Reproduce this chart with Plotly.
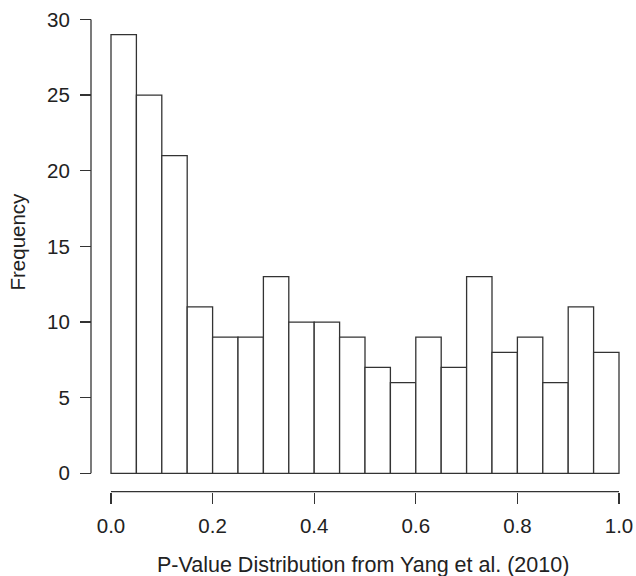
import plotly.graph_objects as go

bin_starts = [0.00, 0.05, 0.10, 0.15, 0.20, 0.25, 0.30, 0.35, 0.40, 0.45,
              0.50, 0.55, 0.60, 0.65, 0.70, 0.75, 0.80, 0.85, 0.90, 0.95]
bin_width = 0.05
frequencies = [29, 25, 21, 11, 9, 9, 13, 10, 10, 9,
               7, 6, 9, 7, 13, 8, 9, 6, 11, 8]
x_ticks = [0.0, 0.2, 0.4, 0.6, 0.8, 1.0]
x_ticklabels = ["0.0", "0.2", "0.4", "0.6", "0.8", "1.0"]
y_ticks = [0, 5, 10, 15, 20, 25, 30]
x_title = "P-Value Distribution from Yang et al. (2010)"
y_title = "Frequency"

W, H = 636, 576
FONT = dict(family="Liberation Sans, Arial, sans-serif", size=20.5, color="#222")
XT_FONT = dict(FONT, size=21.5)
LINE = "#333"
LW = 1.3


def px(x):
    return x / W


def py(y):
    return 1 - y / H


# pixel anchors of the axis extremes
X0PX, X1PX = 111, 619      # x = 0 and x = 1
Y0PX, Y1PX = 473.3, 19.5   # y = 0 and y = 30
XPAD, YPAD = 0.005, 0.12
xs = (X1PX - X0PX) / (x_ticks[-1] - x_ticks[0])
ys = (Y0PX - Y1PX) / (y_ticks[-1] - y_ticks[0])

centers = [s + bin_width / 2 for s in bin_starts]

fig = go.Figure(go.Bar(
    x=centers, y=frequencies, width=[bin_width] * len(centers),
    marker=dict(color="white", line=dict(color=LINE, width=LW)),
    hoverinfo="skip",
))

fig.update_layout(
    template="none",
    width=W, height=H,
    margin=dict(l=0, r=0, t=0, b=0, autoexpand=False),
    paper_bgcolor="white", plot_bgcolor="white",
    font=FONT,
    showlegend=False,
    bargap=0,
    xaxis=dict(
        domain=[px(X0PX - XPAD * xs), px(X1PX + XPAD * xs)],
        range=[x_ticks[0] - XPAD, x_ticks[-1] + XPAD],
        anchor="free", position=py(491.7),
        showline=False,
        ticks="outside", ticklen=11, tickwidth=LW, tickcolor=LINE,
        tickvals=x_ticks, ticktext=x_ticklabels,
        showgrid=False, zeroline=False, ticklabelstandoff=5,
        ticklabeloverflow="allow", automargin=False,
    ),
    yaxis=dict(
        domain=[py(Y0PX + YPAD * ys), py(Y1PX - YPAD * ys)],
        range=[y_ticks[0] - YPAD, y_ticks[-1] + YPAD],
        anchor="free", position=px(91),
        showline=False,
        ticks="outside", ticklen=11, tickwidth=LW, tickcolor=LINE,
        tickvals=y_ticks,
        showgrid=False, zeroline=False, ticklabelstandoff=6,
        ticklabeloverflow="allow", automargin=False,
    ),
    shapes=[
        # R-style axis lines spanning only the first to last tick
        dict(type="line", xref="x", yref="paper",
             x0=x_ticks[0], x1=x_ticks[-1], y0=py(491.7), y1=py(491.7),
             line=dict(color=LINE, width=LW)),
        dict(type="line", xref="paper", yref="y",
             x0=px(91), x1=px(91), y0=y_ticks[0], y1=y_ticks[-1],
             line=dict(color=LINE, width=LW)),
    ],
    annotations=[
        dict(text=x_title, xref="paper", yref="paper",
             x=px(363), y=py(564.5), xanchor="center", yanchor="middle",
             showarrow=False, font=XT_FONT),
        dict(text=y_title, xref="paper", yref="paper",
             x=px(17.5), y=py(242), xanchor="center", yanchor="middle",
             textangle=-90, showarrow=False, font=FONT),
    ],
)

fig.write_html(
    "out.html",
    config={"displayModeBar": False, "staticPlot": True},
    post_script="document.body.style.margin='0';document.body.style.overflow='hidden';",
)
